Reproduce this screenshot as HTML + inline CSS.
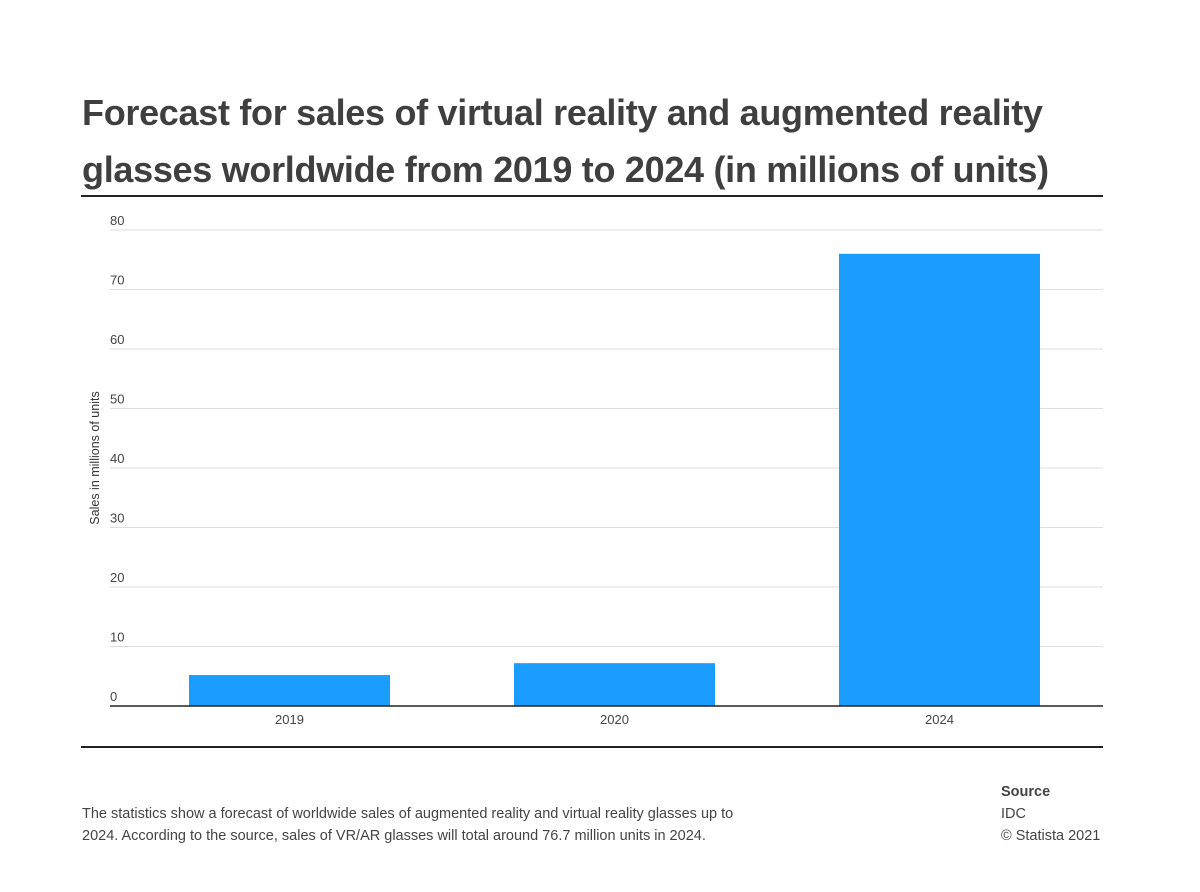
<!DOCTYPE html>
<html><head><meta charset="utf-8"><style>
body{margin:0;background:#fff;width:1200px;height:892px;overflow:hidden;font-family:"Liberation Sans",sans-serif;color:#3c3c3c;position:relative}
.title{position:absolute;left:82px;top:84px;width:1040px;font-size:36px;font-weight:bold;line-height:57px;color:#3f3f3f;letter-spacing:-0.3px}
.rule{position:absolute;left:81px;width:1022px;height:2px;background:#222}
.desc{position:absolute;left:82px;top:803px;font-size:14.5px;line-height:22px;color:#444;width:660px}
.src{position:absolute;left:1001px;top:781px;font-size:14.5px;line-height:22px;color:#444}
</style></head><body>
<div class="title">Forecast for sales of virtual reality and augmented reality glasses worldwide from 2019 to 2024 (in millions of units)</div>
<div class="rule" style="top:195px"></div>
<div class="rule" style="top:746px"></div>
<svg id="chart" width="1200" height="892" style="position:absolute;left:0;top:0"></svg>
<div class="desc">The statistics show a forecast of worldwide sales of augmented reality and virtual reality glasses up to 2024. According to the source, sales of VR/AR glasses will total around 76.7 million units in 2024.</div>
<div class="src"><b>Source</b><br>IDC<br>© Statista 2021</div>
<script>
const categories=["2019","2020","2024"];
const values=[5.2,7.2,76.0];
const yTicks=[0,10,20,30,40,50,60,70,80];
const svg=document.getElementById('chart');
const NS='http://www.w3.org/2000/svg';
const x0=127,bandW=325,barW=201,yBase=706,yTop=230,yMax=80;
const y=v=>yBase-(v/yMax)*(yBase-yTop);
const xc=i=>x0+bandW*i+bandW/2;
function mk(t,a){const e=document.createElementNS(NS,t);for(const k in a)e.setAttribute(k,a[k]);svg.appendChild(e);return e;}
yTicks.forEach(t=>{
 if(t>0){const l=mk('line',{x1:110,x2:1103,y1:y(t),y2:y(t),stroke:'#dedede','stroke-width':1});
 
 }
 const tx=mk('text',{x:110,y:y(t)-5,'font-size':13,fill:'#444','font-family':'Liberation Sans, sans-serif'});
 tx.textContent=t;
 
 
});
values.forEach((v,i)=>{
 const r=mk('rect',{x:xc(i)-barW/2,y:y(v),width:barW,height:yBase-y(v),fill:'#1a9dff'});
 
 
 const tx=mk('text',{x:xc(i),y:724,'font-size':13,fill:'#444','text-anchor':'middle','font-family':'Liberation Sans, sans-serif'});
 tx.textContent=categories[i];
 
 
});
const ax=mk('line',{x1:110,x2:1103,y1:yBase,y2:yBase,stroke:'#222','stroke-width':1.5});


const yt=mk('text',{x:0,y:0,'font-size':12.5,fill:'#333','text-anchor':'middle',transform:'translate(99,458) rotate(-90)','font-family':'Liberation Sans, sans-serif'});
yt.textContent='Sales in millions of units';


</script>
</body></html>
